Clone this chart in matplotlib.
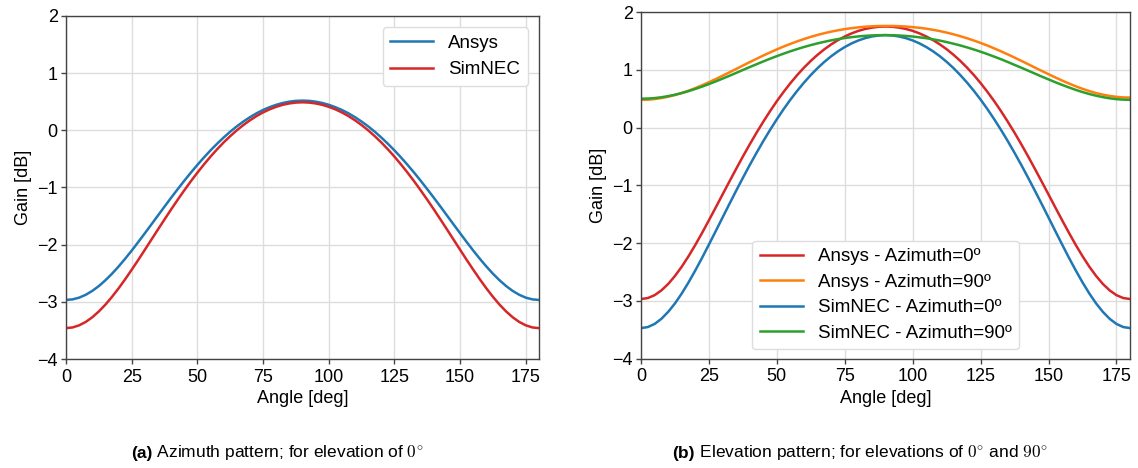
import numpy as np
import matplotlib
matplotlib.use("Agg")
import matplotlib.pyplot as plt
from matplotlib.font_manager import fontManager

plt.rcParams['font.family'] = ['Liberation Sans', 'DejaVu Sans']
plt.rcParams['mathtext.fontset'] = 'cm'

# ---- data (gain in dB, sampled every 2.5 deg) -------------------------
angles = [i * 2.5 for i in range(73)]

# (a) azimuth pattern, elevation 0 deg
az_ansys = [
    -2.967, -2.957, -2.927, -2.877, -2.809, -2.724, -2.623, -2.509, -2.383, -2.247,
    -2.104, -1.954, -1.801, -1.646, -1.490, -1.334, -1.180, -1.030, -0.883, -0.741,
    -0.605, -0.475, -0.351, -0.235, -0.126, -0.024, 0.069, 0.153, 0.229, 0.297,
    0.356, 0.405, 0.446, 0.478, 0.501, 0.515, 0.519,
    0.515, 0.501, 0.478, 0.446, 0.405, 0.356, 0.297, 0.229, 0.153, 0.069,
    -0.024, -0.126, -0.235, -0.351, -0.475, -0.605, -0.741, -0.883, -1.030, -1.180,
    -1.334, -1.490, -1.646, -1.801, -1.954, -2.104, -2.247, -2.383, -2.509, -2.623,
    -2.724, -2.809, -2.877, -2.927, -2.957, -2.967]
az_simnec = [
    -3.460, -3.448, -3.411, -3.352, -3.270, -3.168, -3.049, -2.913, -2.765, -2.606,
    -2.439, -2.267, -2.090, -1.912, -1.734, -1.558, -1.384, -1.215, -1.051, -0.892,
    -0.741, -0.597, -0.460, -0.332, -0.212, -0.102, 0.000, 0.092, 0.175, 0.249,
    0.313, 0.367, 0.411, 0.446, 0.470, 0.485, 0.490,
    0.485, 0.470, 0.446, 0.411, 0.367, 0.313, 0.249, 0.175, 0.092, 0.000,
    -0.102, -0.212, -0.332, -0.460, -0.597, -0.741, -0.892, -1.051, -1.215, -1.384,
    -1.558, -1.734, -1.912, -2.090, -2.267, -2.439, -2.606, -2.765, -2.913, -3.049,
    -3.168, -3.270, -3.352, -3.411, -3.448, -3.460]

# (b) elevation pattern, azimuth 0 and 90 deg
el_ansys_0 = [
    -2.967, -2.950, -2.900, -2.817, -2.706, -2.567, -2.406, -2.225, -2.029, -1.820,
    -1.603, -1.382, -1.158, -0.936, -0.716, -0.500, -0.291, -0.090, 0.102, 0.285,
    0.458, 0.619, 0.770, 0.910, 1.038, 1.155, 1.261, 1.356, 1.440, 1.514,
    1.577, 1.630, 1.674, 1.707, 1.730, 1.745, 1.749,
    1.745, 1.730, 1.707, 1.674, 1.630, 1.577, 1.514, 1.440, 1.356, 1.261,
    1.155, 1.038, 0.910, 0.770, 0.619, 0.458, 0.285, 0.102, -0.090, -0.291,
    -0.500, -0.716, -0.936, -1.158, -1.382, -1.603, -1.820, -2.029, -2.225, -2.406,
    -2.567, -2.706, -2.817, -2.900, -2.950, -2.967]
el_ansys_90 = [
    0.480, 0.483, 0.494, 0.511, 0.534, 0.563, 0.599, 0.639, 0.684, 0.733,
    0.785, 0.840, 0.897, 0.955, 1.014, 1.074, 1.133, 1.190, 1.247, 1.301,
    1.353, 1.403, 1.449, 1.493, 1.533, 1.570, 1.604, 1.634, 1.661, 1.684,
    1.705, 1.721, 1.735, 1.746, 1.753, 1.758, 1.759,
    1.759, 1.755, 1.749, 1.739, 1.727, 1.712, 1.692, 1.670, 1.644, 1.615,
    1.582, 1.546, 1.507, 1.465, 1.420, 1.371, 1.320, 1.267, 1.211, 1.155,
    1.097, 1.038, 0.981, 0.924, 0.868, 0.814, 0.763, 0.715, 0.671, 0.632,
    0.597, 0.570, 0.548, 0.532, 0.522, 0.520]
el_simnec_0 = [
    -3.470, -3.452, -3.398, -3.309, -3.189, -3.042, -2.870, -2.678, -2.470, -2.251,
    -2.023, -1.791, -1.557, -1.324, -1.094, -0.869, -0.649, -0.438, -0.234, -0.040,
    0.145, 0.320, 0.484, 0.637, 0.779, 0.910, 1.030, 1.138, 1.235, 1.320,
    1.394, 1.457, 1.508, 1.548, 1.577, 1.594, 1.600,
    1.594, 1.577, 1.548, 1.508, 1.457, 1.394, 1.320, 1.235, 1.138, 1.030,
    0.910, 0.779, 0.637, 0.484, 0.320, 0.145, -0.040, -0.234, -0.438, -0.649,
    -0.869, -1.094, -1.324, -1.557, -1.791, -2.023, -2.251, -2.470, -2.678, -2.870,
    -3.042, -3.189, -3.309, -3.398, -3.452, -3.470]
el_simnec_90 = [
    0.500, 0.503, 0.511, 0.525, 0.545, 0.569, 0.598, 0.631, 0.669, 0.710,
    0.753, 0.799, 0.847, 0.896, 0.946, 0.997, 1.047, 1.096, 1.145, 1.192,
    1.237, 1.280, 1.321, 1.359, 1.395, 1.428, 1.458, 1.485, 1.510, 1.531,
    1.550, 1.565, 1.578, 1.588, 1.595, 1.599, 1.601,
    1.598, 1.594, 1.586, 1.576, 1.562, 1.547, 1.527, 1.506, 1.480, 1.452,
    1.422, 1.388, 1.352, 1.313, 1.272, 1.228, 1.183, 1.135, 1.085, 1.036,
    0.985, 0.934, 0.883, 0.834, 0.785, 0.739, 0.695, 0.653, 0.615, 0.581,
    0.552, 0.527, 0.507, 0.492, 0.484, 0.480]

x_ticks = [0, 25, 50, 75, 100, 125, 150, 175]
y_ticks = [-4, -3, -2, -1, 0, 1, 2]

BLUE, RED, ORANGE, GREEN = '#1f77b4', '#d62728', '#ff7f0e', '#2ca02c'

# ---- figure -----------------------------------------------------------
fig = plt.figure(figsize=(11.38, 4.68), dpi=100)
ax1 = fig.add_axes([0.058, 0.2329, 0.4156, 0.733])
ax2 = fig.add_axes([0.5633, 0.2335, 0.4297, 0.7408])

FS = 13
LW = 1.8


def style(ax):
    ax.set_xlim(0, 180)
    ax.set_ylim(-4, 2)
    ax.set_xticks(x_ticks)
    ax.set_yticks(y_ticks)
    ax.grid(True, color='#dddddd', linewidth=1.0)
    ax.set_axisbelow(True)
    for s in ax.spines.values():
        s.set_color('#444444')
        s.set_linewidth(1.0)
    ax.tick_params(labelsize=FS, length=3.5, width=1.0, color='#444444', pad=2.5)
    ax.tick_params(axis='x', pad=3.5)
    ax.set_xlabel('Angle [deg]', fontsize=FS, labelpad=3)
    ax.set_ylabel('Gain [dB]', fontsize=FS, labelpad=4)


ax1.plot(angles, az_ansys, color=BLUE, lw=LW, label='Ansys')
ax1.plot(angles, az_simnec, color=RED, lw=LW, label='SimNEC')
style(ax1)
ax1.legend(loc='upper right', fontsize=13.5, framealpha=1, edgecolor='#dddddd',
           handlelength=2.3, borderaxespad=0.6)

ax2.plot(angles, el_ansys_0, color=RED, lw=LW, label='Ansys - Azimuth=0º')
ax2.plot(angles, el_ansys_90, color=ORANGE, lw=LW, label='Ansys - Azimuth=90º')
ax2.plot(angles, el_simnec_0, color=BLUE, lw=LW, label='SimNEC - Azimuth=0º')
ax2.plot(angles, el_simnec_90, color=GREEN, lw=LW, label='SimNEC - Azimuth=90º')
style(ax2)
ax2.legend(loc='lower center', fontsize=13.5, framealpha=1, edgecolor='#dddddd',
           handlelength=2.3, labelspacing=0.45)

# ---- sub-captions -----------------------------------------------------
names = {f.name for f in fontManager.ttflist}
cap_font = ['Liberation Sans Narrow'] if 'Liberation Sans Narrow' in names else ['Liberation Sans']

fig.canvas.draw()
renderer = fig.canvas.get_renderer()


def caption(xc, bold, rest):
    y = 0.032
    tb = fig.text(0, y, bold, fontsize=12.5, fontweight='bold', family=cap_font,
                  va='center', ha='left')
    tr = fig.text(0, y, rest, fontsize=12.5, family=cap_font, va='center', ha='left')
    wb = tb.get_window_extent(renderer).width / fig.bbox.width
    wr = tr.get_window_extent(renderer).width / fig.bbox.width
    x0 = xc - (wb + wr) / 2
    tb.set_x(x0)
    tr.set_x(x0 + wb)


caption(0.244, '(a)', r' Azimuth pattern; for elevation of $0^{\circ}$')
caption(0.756, '(b)', r' Elevation pattern; for elevations of $0^{\circ}$ and $90^{\circ}$')

fig.savefig('out.png', dpi=100, facecolor='white')
